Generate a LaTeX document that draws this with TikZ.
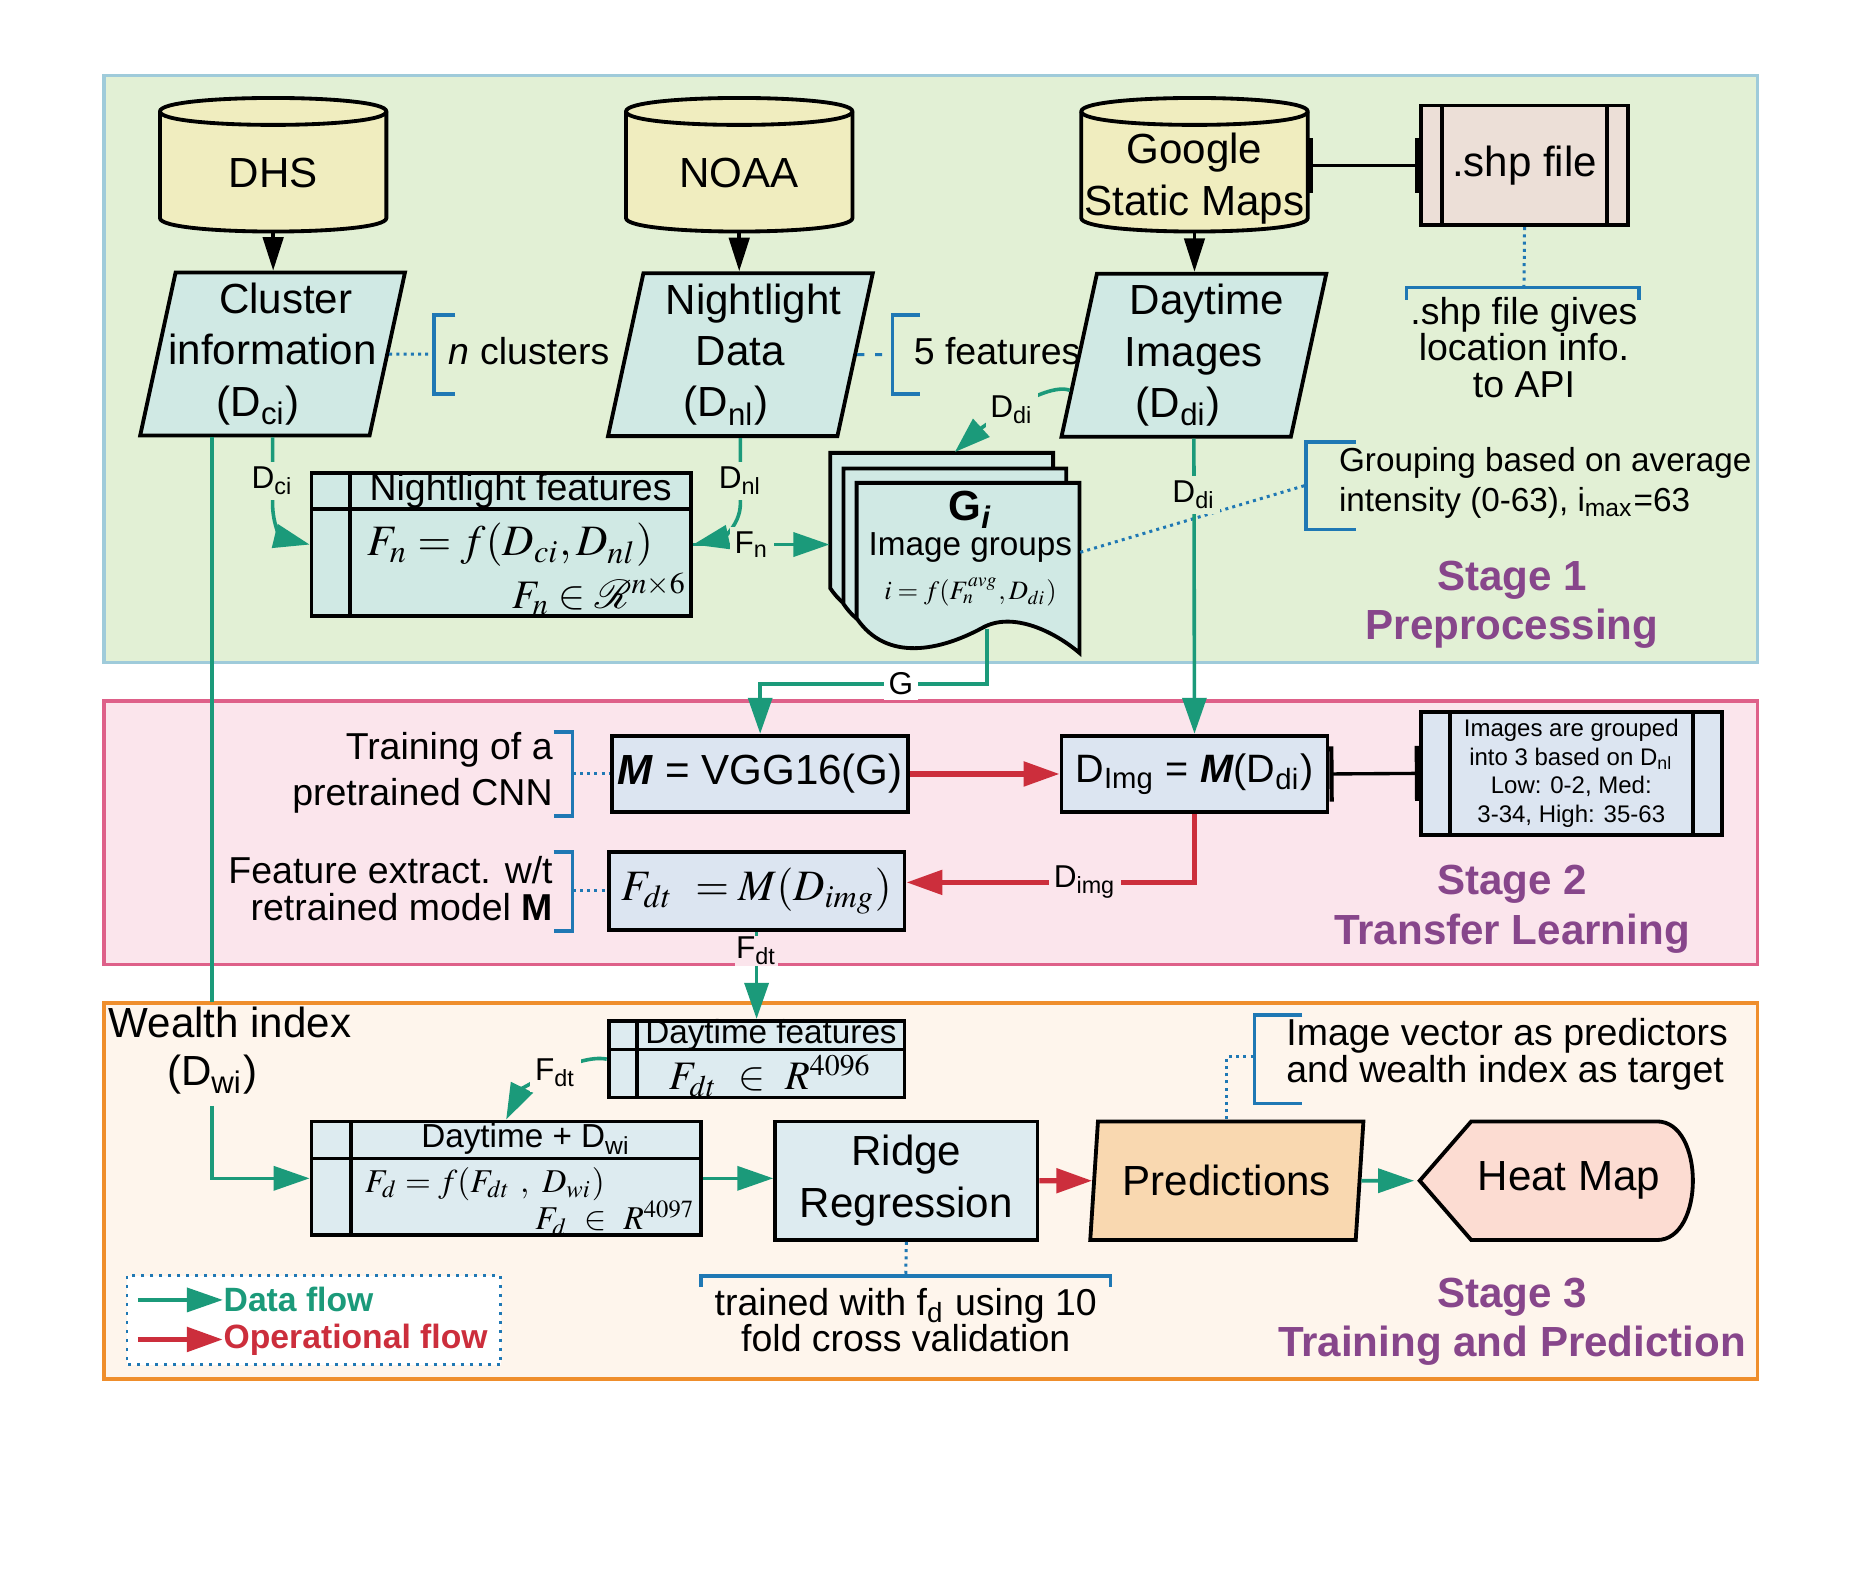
\documentclass[tikz,border=0pt]{standalone}
\usepackage{mathptmx}
\usepackage[no-math]{fontspec}
\setmainfont{Liberation Sans}
\usetikzlibrary{arrows.meta, positioning, shapes.geometric, calc}

\definecolor{stgA}{HTML}{E2F0D5}
\definecolor{stgAline}{HTML}{9FCBDA}
\definecolor{stgB}{HTML}{FBE5EC}
\definecolor{stgBline}{HTML}{DE6089}
\definecolor{stgC}{HTML}{FEF5EC}
\definecolor{stgCline}{HTML}{EF8E2C}
\definecolor{dbfill}{HTML}{F0EDBF}
\definecolor{iofill}{HTML}{D0E9E4}
\definecolor{opfill}{HTML}{DCE5F1}
\definecolor{featfill}{HTML}{DDEBF0}
\definecolor{predfill}{HTML}{F9D8B0}
\definecolor{heatfill}{HTML}{FCDCD2}
\definecolor{shpfill}{HTML}{ECDFD7}
\definecolor{dataC}{HTML}{1B9A7A}
\definecolor{opC}{HTML}{CC2E3C}
\definecolor{stageC}{HTML}{87468B}
\definecolor{noteC}{HTML}{1F78B4}

\begin{document}
\begin{tikzpicture}[x=0.1mm, y=-0.1mm,
  fA/.style={font=\fontsize{10}{12.2}\selectfont},
  fM/.style={font=\fontsize{8.9}{10.8}\selectfont},
  fS/.style={font=\fontsize{7.9}{9.4}\selectfont},
  box/.style={draw, line width=0.32mm, inner sep=0pt, align=center},
  io/.style={box, fA, trapezium, trapezium left angle=76, trapezium right angle=104,
    trapezium stretches body=true, fill=iofill, minimum width=22.1mm, minimum height=13.6mm},
  op/.style={box, fA, rectangle, fill=opfill, minimum height=6.4mm},
  store/.style 2 args={box, fill=featfill, path picture={
    \draw[line width=0.32mm] ([xshift=#1]path picture bounding box.north west) -- ([xshift=#1]path picture bounding box.south west);
    \draw[line width=0.32mm] ([yshift=-#2]path picture bounding box.north west) -- ([yshift=-#2]path picture bounding box.north east);}},
  proc/.style={box, path picture={
    \draw[line width=0.32mm] ([xshift=#1]path picture bounding box.north west) -- ([xshift=#1]path picture bounding box.south west);
    \draw[line width=0.32mm] ([xshift=-#1]path picture bounding box.north east) -- ([xshift=-#1]path picture bounding box.south east);}},
  outline/.style={draw, line width=0.32mm},
  lbl/.style={font=\fontsize{7.5}{8}\selectfont, inner sep=0.4mm, fill=stgA},
  note/.style={draw=noteC, line width=0.25mm, densely dotted},
  brk/.style={draw=noteC, line width=0.3mm},
  dataflow/.style={draw=dataC, line width=0.3mm, -{Triangle[length=3mm, width=2mm]}},
  opflow/.style={draw=opC, line width=0.45mm, -{Triangle[length=3mm, width=2mm]}},
  dbarrow/.style={line width=0.3mm, -{Triangle[length=2.8mm, width=1.7mm]}},
  barlink/.style={line width=0.28mm, {Bar[width=4.6mm, line width=0.35mm]}-{Bar[width=4.6mm, line width=0.35mm]}},
  stagelbl/.style={font=\fontsize{10}{11.7}\selectfont\bfseries, text=stageC, align=center},
]
  \useasboundingbox (0,0) rectangle (1560,1329);

  % 三個階段的底框
  \draw[line width=0.3mm, fill=stgA, draw=stgAline] (87,63) rectangle (1467,553);
  \draw[line width=0.3mm, fill=stgB, draw=stgBline] (87,585) rectangle (1467,805);
  \draw[line width=0.3mm, fill=stgC, draw=stgCline] (87,837) rectangle (1467,1151);

  % 資料庫(圓柱)
  \foreach \cx in {228,617,997} {
    \filldraw[outline, fill=dbfill] (\cx-94.5,93) -- (\cx-94.5,182)
      .. controls (\cx-94.5,197) and (\cx+94.5,197) .. (\cx+94.5,182)
      -- (\cx+94.5,93)
      .. controls (\cx+94.5,78) and (\cx-94.5,78) .. (\cx-94.5,93) -- cycle;
    \draw[outline] (\cx-94.5,93) .. controls (\cx-94.5,108) and (\cx+94.5,108) .. (\cx+94.5,93);
  }
  \node[fA, align=center, inner sep=0, minimum width=18.9mm, minimum height=9.8mm] (dhs) at (228,144) {DHS};
  \node[fA, align=center, inner sep=0, minimum width=18.9mm, minimum height=9.8mm] (noaa) at (617,144) {NOAA};
  \node[fA, align=center, inner sep=0, minimum width=18.9mm, minimum height=8.8mm] (gsm) at (997,149) {Google\\Static Maps};

  \node[proc=1.75mm, fA, fill=shpfill, minimum width=17.3mm, minimum height=10mm] (shp) at (1272.5,138) {.shp file};

  % 輸入資料
  \node[io] (cluster) at (227.5,295.5) {\makebox[0pt]{\hspace*{2.2mm}Cluster}\\\makebox[0pt]{information}\\\makebox[0pt]{(D\textsubscript{ci})\hspace*{2.4mm}}};
  \node[io] (nlight) at (618,296) {\makebox[0pt]{\hspace*{2.2mm}Nightlight}\\\makebox[0pt]{Data}\\\makebox[0pt]{(D\textsubscript{nl})\hspace*{2.4mm}}};
  \node[io] (daytime) at (996.5,296.5) {\makebox[0pt]{\hspace*{2.2mm}Daytime}\\\makebox[0pt]{Images}\\\makebox[0pt]{(D\textsubscript{di})\hspace*{2.6mm}}};

  % 註解括號
  \draw[brk] (380,263) -- (362,263) -- (362,329) -- (380,329);
  \draw[brk] (768,263) -- (745,263) -- (745,329) -- (768,329);
  \draw[brk] (1174,250) -- (1174,240) -- (1368,240) -- (1368,250);
  \draw[brk] (1132,369) -- (1090,369) -- (1090,442) -- (1132,442);
  \draw[brk] (462,611) -- (478,611) -- (478,681) -- (462,681);
  \draw[brk] (462,711) -- (478,711) -- (478,777) -- (462,777);
  \draw[brk] (1087,847) -- (1047,847) -- (1047,921) -- (1087,921);
  \draw[brk] (585,1074) -- (585,1065) -- (927,1065) -- (927,1074);
  \coordinate (ncbr) at (362,295.5);
  \coordinate (nfbr) at (745,296);
  \coordinate (shpbr) at (1272,240);
  \coordinate (grpbr) at (1090,405);
  \coordinate (trainbr) at (478,646);
  \coordinate (featbr) at (478,743.5);
  \coordinate (ivbr) at (1047,882);
  \coordinate (cvbr) at (756,1065);

  \node[fM, anchor=west, inner sep=0] (ncl) at (374,293) {\textit{n} clusters};
  \node[fM, anchor=west, inner sep=0] (nfeat) at (762,293) {5 features};
  \node[align=center, inner sep=0, font=\fontsize{8.9}{8.6}\selectfont] (shpnote) at (1272,290) {.shp file gives\\location info.\\to API};
  \node[fS, anchor=west, align=left, inner sep=0] (grouping) at (1117,403) {Grouping based on average\\intensity (0-63), i\textsubscript{max}=63};

  % 夜光特徵表
  \node[store={3.2mm}{3mm}, fill=iofill, minimum width=31.7mm, minimum height=11.9mm] (nlfeat) at (418.5,454.5) {};
  \node[fM] (nlhdr) at (434.5,410) {Nightlight features};
  \node[font=\fontsize{10.3}{11}\selectfont, inner sep=0] (nlf) at (426,455) {$F_n=f(D_{ci},D_{nl})$};
  \node[font=\fontsize{9.6}{10}\selectfont, anchor=east, inner sep=0] (nlr) at (574,496) {$F_n\in\mathcal{R}^{n\times 6}$};

  % 影像分組(多頁文件)
  \foreach \dx/\dy in {693/378, 704/391, 715/403} {
    \filldraw[outline, fill=iofill] (\dx,\dy) -- (\dx+186,\dy) -- (\dx+186,\dy+142)
      .. controls (\dx+165,\dy+124) and (\dx+130,\dy+107) .. (\dx+105,\dy+121)
      .. controls (\dx+70,\dy+140) and (\dx+25,\dy+150) .. (\dx,\dy+113) -- cycle;
  }
  \node[inner sep=0, minimum width=20.8mm, minimum height=14.6mm] (groups) at (797,451) {};
  \node[fS, align=center, inner sep=0] (gtext) at (810,458)
    {{\fontsize{10}{10}\selectfont\bfseries G\textsubscript{\itshape i}}\\[-0.4mm]
     Image groups\\[0.4mm]
     {\fontsize{6.3}{7}\selectfont $i=f(F_n^{avg},D_{di})$}};

  % 第二階段
  \node[op, minimum width=24.7mm] (vgg) at (634.5,646) {\textbf{\textit{M}} = VGG16(G)};
  \node[op, minimum width=22.2mm, font=\fontsize{9.4}{11}\selectfont] (dimg) at (997,646) {D\textsubscript{Img} = \textbf{\textit{M}}(D\textsubscript{di})};
  \node[op, minimum width=24.7mm, minimum height=6.5mm, font=\fontsize{10.3}{12}\selectfont] (fdt) at (631.5,743.5) {$F_{dt}\ = M(D_{img})$};
  \node[proc=2.4mm, fill=opfill, minimum width=25.1mm, minimum height=10.3mm, font=\fontsize{5.7}{6.8}\selectfont] (imgrp) at (1311.5,645.5)
    {Images are grouped\\into 3 based on D\textsubscript{nl}\\Low: 0-2, Med:\\3-34, High: 35-63};
  \node[fM, anchor=east, align=right, inner sep=0] (trainlbl) at (462,645) {Training of a\\pretrained CNN};
  \node[anchor=east, align=right, inner sep=0, font=\fontsize{8.9}{8.8}\selectfont] (featlbl) at (462,742) {Feature extract. w/t\\retrained model \textbf{M}};

  % 第三階段
  \node[fA, inner sep=0.3mm] (wealth) at (192,853) {Wealth index};
  \node[fA, inner sep=0.9mm] (dwi) at (177,897) {(D\textsubscript{wi})};
  \node[store={2.4mm}{2.4mm}, minimum width=24.7mm, minimum height=6.4mm] (dtfeat) at (631.5,884) {};
  \node[fS, inner sep=0] (dthdr) at (643.5,864) {Daytime features};
  \node[font=\fontsize{9.6}{11}\selectfont, inner sep=0] (dtf) at (643,898) {$F_{dt}\ \in\ R^{4096}$};
  \node[store={3.3mm}{3.1mm}, minimum width=32.5mm, minimum height=9.5mm] (dwbox) at (422.5,983.5) {};
  \node[fS, inner sep=0] (dwhdr) at (439,951) {Daytime + D\textsubscript{wi}};
  \node[font=\fontsize{7.9}{9}\selectfont, anchor=west, inner sep=0] (dwf) at (304,988) {$F_d = f(F_{dt}\ ,\ D_{wi})$};
  \node[font=\fontsize{7.9}{9}\selectfont, anchor=east, inner sep=0] (dwr) at (581,1017) {$F_d\ \in\ R^{4097}$};
  \node[box, fA, fill=featfill, minimum width=21.9mm, minimum height=9.9mm] (ridge) at (756.5,985.5) {Ridge\\Regression};
  \node[io, fill=predfill, minimum width=22.8mm, minimum height=9.9mm] (pred) at (1024,985.5) {\makebox[0pt]{Predictions}};
  \filldraw[outline, fill=heatfill] (1185,985.5) -- (1228,936) -- (1383,936)
    .. controls (1423,936) and (1423,1035) .. (1383,1035) -- (1228,1035) -- cycle;
  \node[fA, inner sep=0, minimum width=20.9mm, minimum height=9.9mm] (heat) at (1309.5,985.5) {Heat Map};
  \node[anchor=west, align=left, inner sep=0, font=\fontsize{8.9}{8.6}\selectfont] (imgvec) at (1073,880) {Image vector as predictors\\and wealth index as target};
  \node[align=center, inner sep=0, font=\fontsize{8.9}{8.6}\selectfont] (cvtext) at (756,1102) {trained with f\textsubscript{d} using 10\\fold cross validation};

  % 圖例
  \draw[note, fill=white, dash pattern=on 0.25mm off 0.5mm] (106,1065) rectangle (418,1139);
  \node[anchor=west, inner sep=0, font=\fontsize{8}{9}\selectfont\bfseries, text=dataC] (lgdata) at (186,1085) {Data flow};
  \node[anchor=west, inner sep=0, font=\fontsize{8}{9}\selectfont\bfseries, text=opC] (lgop) at (186,1118) {Operational flow};
  \coordinate (lgd0) at (115,1085);
  \coordinate (lgo0) at (115,1118);
  \draw[dataflow] (lgd0) -- (lgdata.west);
  \draw[opflow] (lgo0) -- (lgop.west);

  % 階段標題
  \node[stagelbl] (st1) at (1262,505) {Stage 1\\Preprocessing};
  \node[stagelbl] (st2) at (1262,759) {Stage 2\\Transfer Learning};
  \node[stagelbl] (st3) at (1262,1103) {Stage 3\\Training and Prediction};

  % 點線連到註解
  \draw[note] (cluster.east) -- (ncbr);
  \draw[note, dash pattern=on 0.6mm off 0.9mm] (nlight.east) -- (nfbr);
  \draw[note] (shp.south) -- (shpbr);
  \draw[note] ([yshift=-1mm]groups.east) -- (grpbr);
  \draw[note] (trainbr) -- (vgg.west);
  \draw[note] (featbr) -- (fdt.west);
  \draw[note] (pred.north) |- (ivbr);
  \draw[note] (ridge.south) -- (cvbr);

  % 黑色箭頭與連接
  \draw[dbarrow] (dhs.south) -- (dhs.south |- cluster.north);
  \draw[dbarrow] (noaa.south) -- (noaa.south |- nlight.north);
  \draw[dbarrow] (gsm.south) -- (gsm.south |- daytime.north);
  \draw[barlink] (gsm.east |- shp.west) -- (shp.west);
  \draw[barlink] (dimg.east) -- (imgrp.west);

  % 資料流
  \draw[dataflow] (cluster.south) -- node[lbl, pos=0.66]{D\textsubscript{ci}} (227.5,420)
    .. controls (227.5,440) and (236,449) .. (nlfeat.west);
  \draw[dataflow] (nlight.south) -- node[lbl, pos=0.66]{D\textsubscript{nl}} (618,420)
    .. controls (618,440) and (600,450) .. (nlfeat.east);
  \draw[dataflow] (nlfeat.east) -- node[lbl, pos=0.43]{F\textsubscript{n}} (nlfeat.east -| groups.west);
  \draw[dataflow] ($(daytime.top left corner)!0.71!(daytime.bottom left corner)$)
    .. controls (872,318) and (817,359) .. node[lbl, pos=0.5]{D\textsubscript{di}} (groups.north);
  \draw[dataflow] (daytime.south) -- node[lbl, pos=0.19]{D\textsubscript{di}} (dimg.north);
  \draw[dataflow] ([xshift=2.7mm]groups.south) -- ++(0,46) -| node[lbl, fill=white, pos=0.19]{G} (vgg.north);
  \draw[dataflow] (fdt.south) -- node[lbl, fill=stgB, inner sep=0.1mm, pos=0.22]{F\textsubscript{dt}} (dtfeat.north);
  \draw[dataflow] (dtfeat.west) .. controls (480,879) and (434,911) .. node[lbl, fill=stgC, pos=0.45]{F\textsubscript{dt}} (dwbox.north);
  \draw[dataC, line width=0.3mm] (dwi.north |- cluster.south) -- (dwi.north |- wealth.north);
  \draw[dataflow] (dwi.south) |- (dwbox.west);
  \draw[dataflow] (dwbox.east) -- (dwbox.east -| ridge.west);
  \draw[dataflow] (pred.east) -- ([xshift=-2.4mm]heat.west);

  % 操作流
  \draw[opflow] (vgg.east) -- (dimg.west);
  \draw[opflow] (dimg.south) |- node[lbl, fill=stgB, pos=0.69]{D\textsubscript{img}} ([yshift=0.7mm]fdt.east);
  \draw[opflow] (ridge.east) -- (pred.west);
\end{tikzpicture}
\end{document}
